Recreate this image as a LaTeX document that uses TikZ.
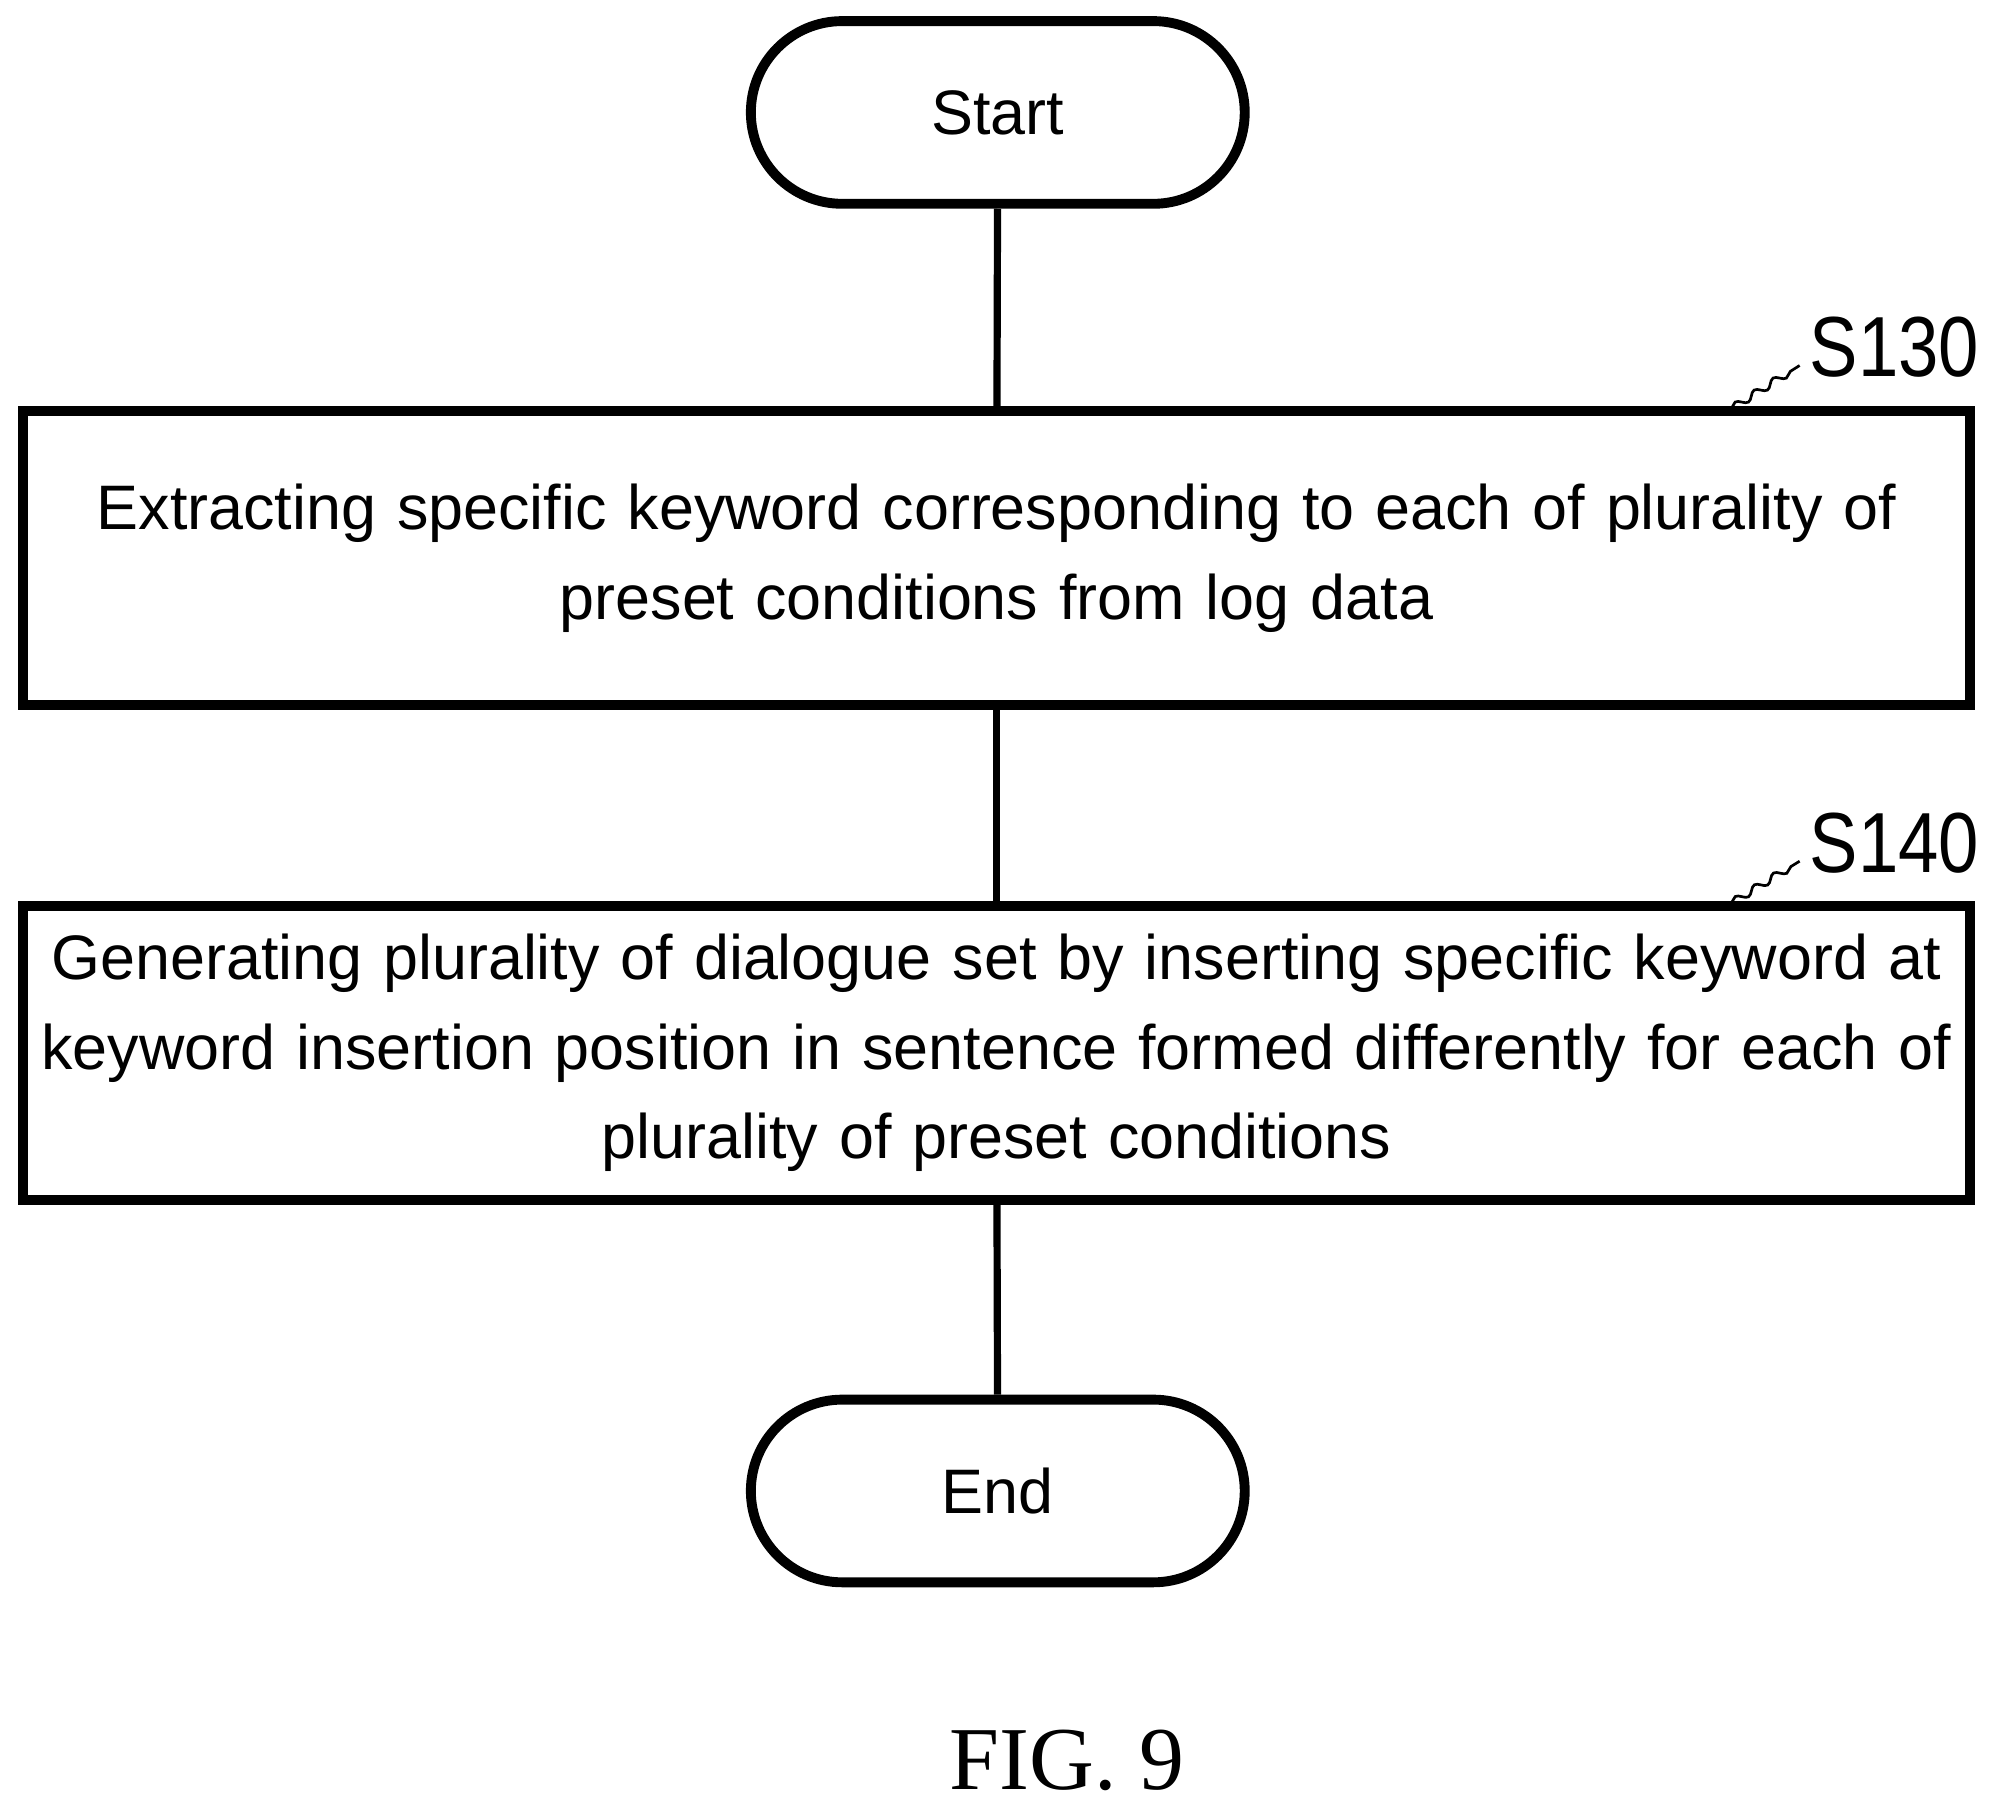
\documentclass[tikz,border=0pt]{standalone}
\usepackage{fontspec}
\setmainfont{Liberation Sans}
\newfontfamily\figfont{Liberation Serif}
\usetikzlibrary{positioning,shapes.misc,decorations.pathmorphing}

\begin{document}
\begin{tikzpicture}[semithick,
                    every node/.style={font=\fontsize{14pt}{20pt}\selectfont},
                    terminal/.style={draw,line width=2.2pt,rounded rectangle,minimum width=4.1cm,minimum height=1.43cm},
                    stepbox/.style={draw,line width=2.2pt,minimum width=15.2cm,minimum height=2.3cm,align=center,text width=15cm},
                    steplabel/.style={font=\fontsize{19pt}{22pt}\selectfont,anchor=east,inner sep=0pt,xscale=0.85}]
\useasboundingbox (0,0) rectangle (15.6,-14.13);

        \node[terminal]   (start) at (7.81,-0.88)  {Start};
        \node[stepbox]    (s130)  at (7.8,-4.37) {Extracting specific keyword corresponding to each of plurality of\\preset conditions from log data};
        \node[stepbox]    (s140)  at (7.8,-8.24) {Generating plurality of dialogue set by inserting specific keyword at\\keyword insertion position in sentence formed differently for each of\\plurality of preset conditions};
        \node[terminal]   (end)   at (7.81,-11.67) {End};

        \node[steplabel]  (l130)  at (15.5,-2.72) {S130};
        \node[steplabel]  (l140)  at (15.5,-6.6)  {S140};
        \node[font=\figfont\fontsize{20pt}{22pt}\selectfont] (fig) at (8.35,-13.78) {FIG. 9};

        \coordinate (t130) at (13.55,-3.2);
        \coordinate (t140) at (13.55,-7.07);

        \draw[line width=1.6pt] (start) -- (s130);
        \draw[line width=1.6pt] (s130) -- (s140);
        \draw[line width=1.6pt] (s140) -- (end);

        \draw[decorate,decoration={snake,amplitude=0.8pt,segment length=5pt}] (t130) -- ([xshift=-2pt,yshift=-4pt]l130.west);
        \draw[decorate,decoration={snake,amplitude=0.8pt,segment length=5pt}] (t140) -- ([xshift=-2pt,yshift=-4pt]l140.west);
\end{tikzpicture}
\end{document}
